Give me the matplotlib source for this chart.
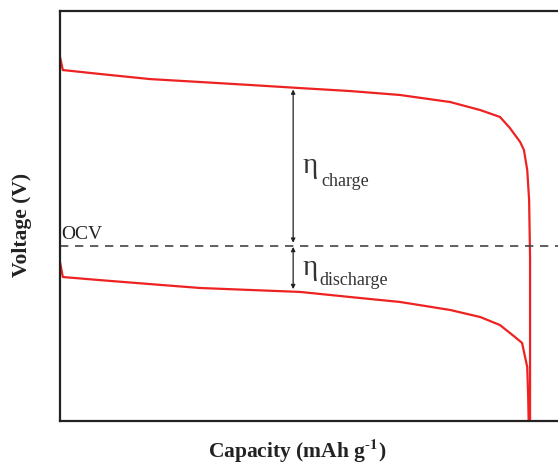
import matplotlib
matplotlib.use("Agg")
import matplotlib.pyplot as plt

plt.rcParams["mathtext.fontset"] = "stix"

# Galvanostatic charge / discharge profiles (capacity in mAh/g, voltage in V)
charge_capacity = [0, 6, 85, 191, 298, 404, 511, 617, 723, 830, 894, 936, 957, 979, 987, 994, 998, 1000, 1000]
charge_voltage = [4.22, 4.14, 4.116, 4.085, 4.067, 4.049, 4.030, 4.012, 3.988, 3.945, 3.896, 3.854, 3.787,
                  3.701, 3.652, 3.530, 3.348, 3.00, 2.0]

discharge_capacity = [0, 6, 81, 191, 298, 404, 511, 617, 723, 830, 894, 936, 968, 983, 994, 996, 997]
discharge_voltage = [2.97, 2.878, 2.860, 2.835, 2.811, 2.799, 2.787, 2.756, 2.726, 2.677, 2.634, 2.585,
                     2.512, 2.476, 2.329, 2.15, 2.0]

ocv = 3.07
arrow_capacity = 496
charge_at_arrow = 4.03
discharge_at_arrow = 2.787

red = "#ee2222"
ink = "#222222"

fig = plt.figure(figsize=(5.58, 4.65), dpi=100)
W, H = 558, 465
ax = fig.add_axes([60 / W, 1 - 421 / H, (578 - 60) / W, (421 - 11) / H])
ax.set_xlim(0, 1102)
ax.set_ylim(2.0, 4.5)

ax.plot(charge_capacity, charge_voltage, color=red, lw=1.6, solid_capstyle="butt")
ax.plot(discharge_capacity, discharge_voltage, color=red, lw=1.6, solid_capstyle="butt")
ax.axhline(ocv, color="#444444", lw=1.2, ls=(0, (5, 4)))

arrow_kw = dict(arrowstyle="<|-|>", color=ink, lw=0.9, mutation_scale=6, shrinkA=2, shrinkB=1)
ax.annotate("", xy=(arrow_capacity, charge_at_arrow), xytext=(arrow_capacity, ocv), arrowprops=arrow_kw)
ax.annotate("", xy=(arrow_capacity, ocv), xytext=(arrow_capacity, discharge_at_arrow), arrowprops=arrow_kw)

serif = "Liberation Serif"
ax.text(515, 3.515, "η", fontsize=21, family=serif, color="#333333", ha="left", va="baseline")
ax.text(556, 3.435, "charge", fontsize=13, family=serif, color="#333333", ha="left", va="baseline")
ax.text(515, 2.89, "η", fontsize=21, family=serif, color="#333333", ha="left", va="baseline")
ax.text(551, 2.83, "discharge", fontsize=13, family=serif, color="#333333", ha="left", va="baseline")
ax.text(3, ocv + 0.04, "OCV", fontsize=14, family=serif, color="#222222", ha="left", va="baseline")

for side in ("left", "bottom", "top"):
    ax.spines[side].set_linewidth(1.6)
    ax.spines[side].set_color(ink)
ax.spines["right"].set_visible(False)
ax.set_xticks([])
ax.set_yticks([])

fig.text(297 / W, 1 - 451 / H, r"Capacity (mAh g$^{\text{-}\mathbf{1}}$)", fontsize=15.5, family=serif,
         weight="bold", color=ink, ha="center", va="center")
fig.text(22 / W, 1 - 225 / H, "Voltage (V)", fontsize=15.5, family=serif, weight="bold",
         color=ink, ha="center", va="center", rotation=90)

fig.savefig("out.png", dpi=100)
